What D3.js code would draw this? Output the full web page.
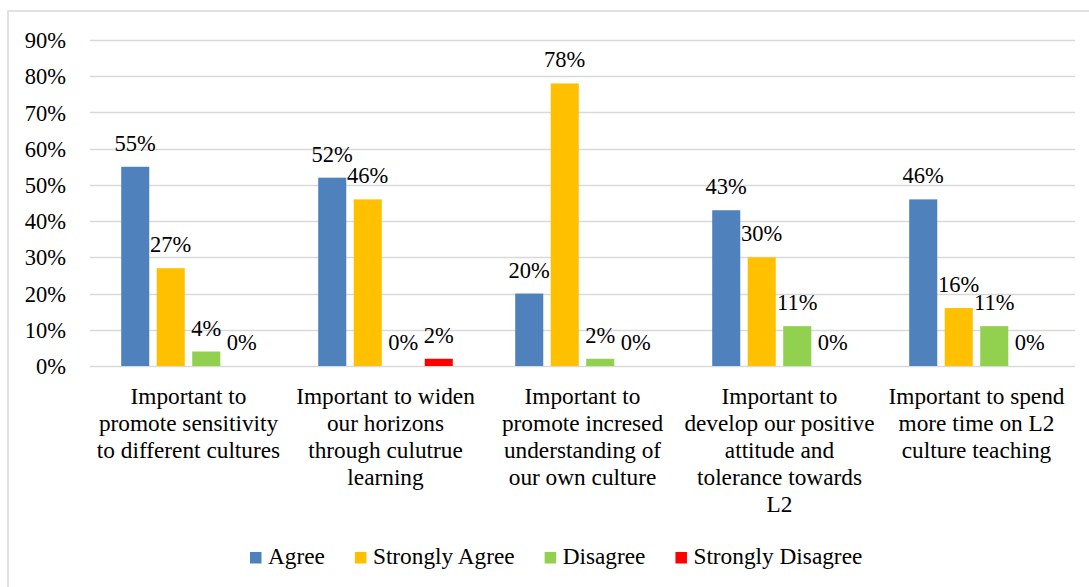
<!DOCTYPE html>
<html><head><meta charset="utf-8">
<script src="https://cdn.jsdelivr.net/npm/d3@7"></script>
<style>
html,body{margin:0;padding:0;background:#fff;}
svg{display:block;font-family:"Liberation Serif","Times New Roman",serif;}
</style></head>
<body><svg id="c" width="1089" height="587"></svg>
<script>
const categories = [
  ["Important to","promote sensitivity","to different cultures"],
  ["Important to widen","our horizons","through culutrue","learning"],
  ["Important to","promote incresed","understanding of","our own culture"],
  ["Important to","develop our positive","attitude and","tolerance towards","L2"],
  ["Important to spend","more time on L2","culture teaching"]
];
const seriesNames = ["Agree","Strongly Agree","Disagree","Strongly Disagree"];
const agree = [55,52,20,43,46];
const stronglyAgree = [27,46,78,30,16];
const disagree = [4,0,2,11,11];
const stronglyDisagree = [0,2,0,0,0];
const yTicks = [0,10,20,30,40,50,60,70,80,90];
const colors = ["#4F81BD","#FFC000","#92D050","#FF0000"];

const seriesValues = [agree, stronglyAgree, disagree, stronglyDisagree];
const catIdx = categories.map((d,i)=>i);

const svg = d3.select("#c");
const fsNum = 22.5, fsText = 23.3;
const FF = "Liberation Serif";

svg.append("rect").attr("x",8).attr("y",11).attr("width",1100).attr("height",600)
  .attr("fill","#fff").attr("stroke","#d9d9d9").attr("stroke-width",1.5);

const pLeft = 90, pRight = 1075, pTop = 40, pBottom = 366;
const y = d3.scaleLinear().domain([0,90]).range([pBottom, pTop]);
const x0 = d3.scaleBand().domain(catIdx).range([pLeft,pRight]).paddingInner(0.279).paddingOuter(0.1395);
const x1 = d3.scaleBand().domain(d3.range(seriesNames.length)).range([0,x0.bandwidth()]).paddingInner(0.21).paddingOuter(0.105);

// gridlines
svg.append("g").selectAll("line").data(yTicks).join("line")
  .attr("x1",pLeft).attr("x2",pRight)
  .attr("y1",d=>Math.round(y(d))+0.5).attr("y2",d=>Math.round(y(d))+0.5)
  .attr("stroke","#d9d9d9").attr("stroke-width",1.5);

// y axis labels
const yAxis = d3.axisLeft(y).tickValues(yTicks).tickFormat(d=>d+"%").tickSize(0).tickPadding(0);
const ya = svg.append("g").attr("transform",`translate(66,0)`).call(yAxis);
ya.select(".domain").remove();
ya.attr("font-family",FF).attr("font-size",fsNum);
ya.selectAll("text").attr("font-size",fsNum).attr("font-family",FF).attr("fill","#000").attr("dy","0.34em");

// bars
const groups = svg.append("g").selectAll("g").data(catIdx).join("g")
  .attr("transform",i=>`translate(${x0(i)},0)`);
groups.selectAll("rect").data(i=>seriesValues.map((s,k)=>({k,v:s[i]}))).join("rect")
  .attr("x",d=>x1(d.k)).attr("width",x1.bandwidth())
  .attr("y",d=>y(d.v)).attr("height",d=>y(0)-y(d.v))
  .attr("fill",d=>colors[d.k]);
groups.selectAll("text").data(i=>seriesValues.map((s,k)=>({k,v:s[i]}))).join("text")
  .attr("x",d=>x1(d.k)+x1.bandwidth()/2).attr("y",d=>y(d.v)-16)
  .attr("text-anchor","middle").attr("font-size",fsNum).attr("font-family",FF).attr("fill","#000")
  .text(d=>d.v+"%");

// category labels
const xa = svg.append("g");
catIdx.forEach(i=>{
  const cx = x0(i)+x0.bandwidth()/2;
  const t = xa.append("text").attr("text-anchor","middle").attr("font-size",fsText).attr("font-family",FF).attr("fill","#000")
    .attr("x",cx).attr("y",404);
  categories[i].forEach((line,j)=>{
    t.append("tspan").attr("x",cx).attr("y",404+j*27).text(line);
  });
});

// legend
const lg = svg.append("g");
let lx = 250;
seriesNames.forEach((n,k)=>{
  lg.append("rect").attr("x",lx).attr("y",552).attr("width",11.5).attr("height",11.5).attr("fill",colors[k]);
  const t = lg.append("text").attr("x",lx+18).attr("y",564).attr("font-size",fsText).attr("font-family",FF).attr("fill","#000").text(n);
  const w = t.node().getComputedTextLength();
  lx = lx + 18 + w + 30;
});
</script></body></html>
